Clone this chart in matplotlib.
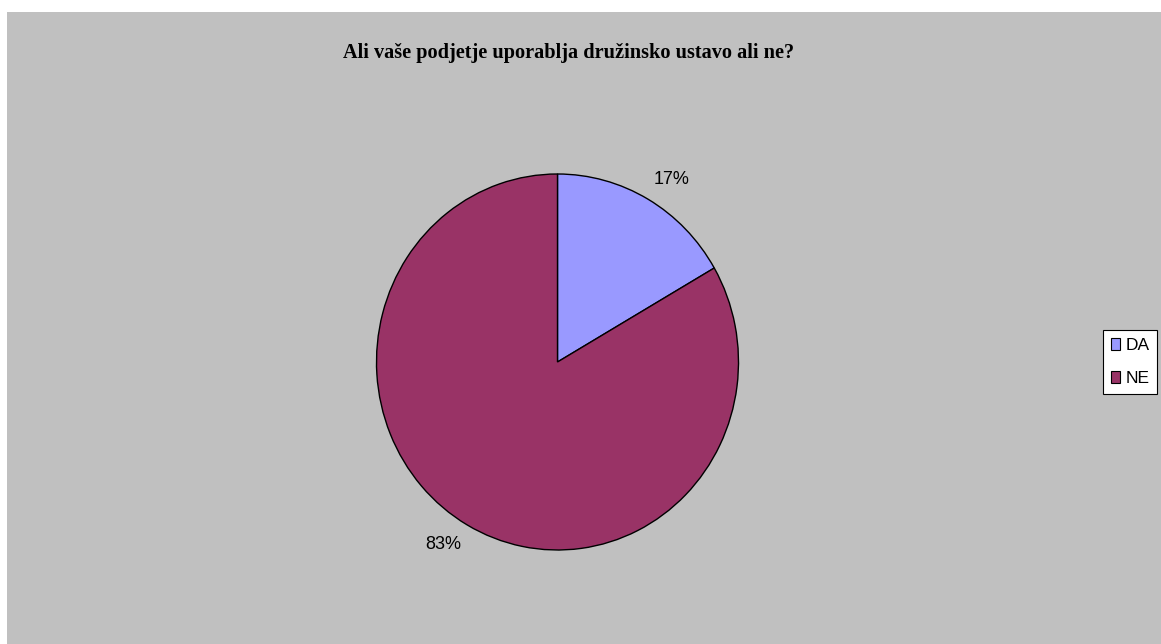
import matplotlib.pyplot as plt
from matplotlib.patches import Rectangle, Patch

# Podatki ankete
kategorije = ["DA", "NE"]
odgovori = [1, 5]
barve = ["#9999FF", "#993366"]
naslov = "Ali vaše podjetje uporablja družinsko ustavo ali ne?"

W, H = 1161, 644
fig = plt.figure(figsize=(W / 100, H / 100), dpi=100)
fig.patch.set_facecolor("white")

# sivo ozadje grafikona (bel rob zgoraj in levo)
fig.patches.append(Rectangle((7 / W, 0), 1 - 7 / W, 1 - 12 / H,
                             transform=fig.transFigure, facecolor="#C0C0C0",
                             edgecolor="none", zorder=-10))

# os za torto: središče (557.5, 362), polmera 181 x 188 px
cx, cy, rx, ry = 557.5, 362, 181, 188
ax = fig.add_axes([(cx - rx) / W, (H - cy - ry) / H, 2 * rx / W, 2 * ry / H])
ax.set_facecolor("none")

wedges, texts, autotexts = ax.pie(
    odgovori, colors=barve, startangle=90, counterclock=False,
    autopct="%1.0f%%", pctdistance=1.16, labeldistance=None,
    wedgeprops={"edgecolor": "black", "linewidth": 1.0},
    textprops={"fontsize": 13, "family": "Liberation Sans", "color": "black"})
# oznake malo premaknjene, kot v Excelu
autotexts[0].set_position((0.63, 0.97))
autotexts[1].set_position((-0.63, -0.97))
ax.set_xlim(-1, 1)
ax.set_ylim(-1, 1)
ax.set_aspect("auto")
ax.axis("off")

fig.text(569 / W, 1 - 53 / H, naslov, ha="center", va="center",
         fontsize=14.6, fontweight="bold", family="Liberation Serif")

handles = [Patch(facecolor=c, edgecolor="black", linewidth=0.8) for c in barve]
leg = fig.legend(handles, kategorije, loc="upper left",
                 bbox_to_anchor=(1103 / W, 1 - 330 / H),
                 frameon=True, fancybox=False, framealpha=1,
                 prop={"family": "Liberation Sans", "size": 12.5},
                 handlelength=0.52, handleheight=0.65, handletextpad=0.32,
                 borderpad=0.45, labelspacing=1.05, borderaxespad=0)
leg.get_frame().set_edgecolor("black")
leg.get_frame().set_linewidth(0.8)
leg.get_frame().set_facecolor("white")

fig.savefig("out.png", dpi=100)
